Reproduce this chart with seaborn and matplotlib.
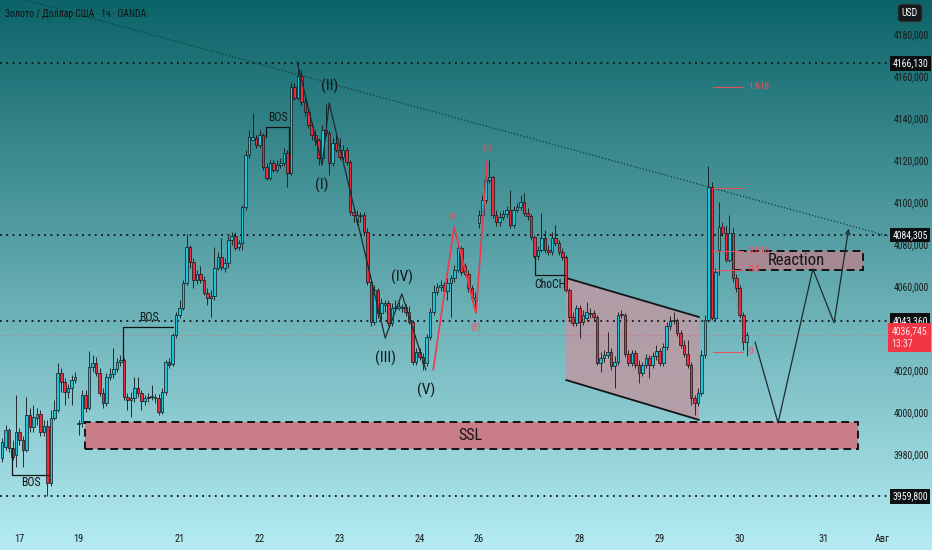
import numpy as np
import matplotlib
matplotlib.use("Agg")
import matplotlib.pyplot as plt
from matplotlib import font_manager as fm
from matplotlib.patches import Rectangle, Polygon
import seaborn as sns

# hourly XAU/USD candles
opens = [
    3978.1, 3983.3, 3991.4, 3982.9, 3979.5, 3990.5, 3986.7, 3981.9, 3998.6, 3992.9,
    3997.1, 3999.0, 3990.5, 3993.3, 3966.2, 3997.1, 4001.0, 4018.6, 4014.3, 4009.5,
    4011.4, 4015.2, 3994.8, 3994.8, 4008.1, 4001.9, 4021.4, 4023.3, 4018.6, 4009.0,
    4004.3, 4016.7, 4018.1, 4020.5, 4023.8, 4024.8, 4007.1, 4005.7, 4006.7, 4011.4,
    4009.0, 4005.2, 4006.7, 4007.1, 4007.1, 4006.7, 4000.0, 4009.5, 4023.8, 4022.9,
    4036.7, 4046.2, 4049.5, 4061.4, 4078.6, 4071.4, 4062.9, 4065.7, 4062.9, 4056.7,
    4054.3, 4055.2, 4068.6, 4073.8, 4068.6, 4071.0, 4081.9, 4083.8, 4078.6, 4080.5,
    4097.6, 4122.4, 4129.5, 4130.5, 4127.2, 4131.9, 4116.7, 4111.4, 4118.6, 4115.2,
    4117.6, 4118.6, 4123.3, 4113.8, 4154.8, 4149.5, 4160.0, 4147.6, 4142.9, 4136.7,
    4131.9, 4129.5, 4121.0, 4134.3, 4132.9, 4118.6, 4128.1, 4124.8, 4121.4, 4124.8,
    4119.1, 4095.2, 4090.5, 4093.3, 4093.8, 4085.7, 4061.9, 4042.9, 4058.1, 4047.1,
    4050.9, 4051.9, 4042.4, 4049.5, 4049.5, 4049.5, 4050.0, 4047.6, 4042.9, 4023.8,
    4028.6, 4026.2, 4023.3, 4035.7, 4047.6, 4057.1, 4059.5, 4060.5, 4057.6, 4061.4,
    4063.8, 4067.6, 4078.1, 4069.5, 4065.7, 4059.0, 4053.3, 4090.0, 4093.8, 4101.0,
    4110.5, 4111.9, 4093.8, 4090.5, 4092.9, 4094.3, 4096.2, 4089.1, 4096.2, 4097.6,
    4100.0, 4094.8, 4093.3, 4083.3, 4074.3, 4077.1, 4082.9, 4077.1, 4076.2, 4082.9,
    4080.5, 4076.2, 4073.8, 4058.1, 4045.2, 4042.4, 4049.5, 4042.9, 4044.8, 4046.7,
    4047.1, 4045.2, 4023.3, 4025.7, 4027.1, 4028.6, 4021.9, 4023.8, 4046.2, 4046.2,
    4027.6, 4023.3, 4028.1, 4022.4, 4018.6, 4022.4, 4025.7, 4022.4, 4026.7, 4029.0,
    4023.3, 4030.9, 4041.0, 4043.3, 4043.8, 4037.6, 4031.9, 4027.6, 4022.4, 4006.7,
    4004.3, 4009.0, 4027.1, 4043.8, 4107.1, 4044.8, 4077.1, 4088.1, 4085.2, 4072.4,
    4085.2, 4063.8, 4059.0, 4046.2, 4033.3,
]
highs = [
    3987.6, 3993.8, 3992.4, 3986.7, 4008.1, 3992.4, 3988.6, 4007.1, 4001.9, 4003.3,
    4001.9, 4001.0, 3996.2, 3996.2, 4001.0, 4005.7, 4023.3, 4021.0, 4016.2, 4013.3,
    4017.6, 4019.0, 3996.2, 4010.5, 4010.5, 4029.0, 4027.1, 4026.2, 4021.0, 4011.4,
    4018.6, 4021.0, 4030.5, 4025.7, 4027.1, 4025.7, 4009.0, 4009.5, 4016.7, 4016.7,
    4010.5, 4008.1, 4009.0, 4012.9, 4008.6, 4008.6, 4011.4, 4024.8, 4025.7, 4037.6,
    4047.6, 4053.3, 4062.9, 4084.8, 4079.5, 4073.3, 4067.6, 4069.5, 4064.8, 4059.0,
    4058.1, 4078.6, 4076.2, 4082.9, 4073.3, 4083.8, 4085.7, 4085.7, 4081.9, 4098.6,
    4124.8, 4134.3, 4142.4, 4131.9, 4134.3, 4132.9, 4118.6, 4120.0, 4120.0, 4120.0,
    4121.0, 4125.7, 4124.8, 4157.2, 4156.7, 4166.1, 4162.9, 4149.5, 4144.8, 4138.1,
    4134.3, 4130.5, 4136.7, 4146.7, 4134.3, 4130.5, 4131.9, 4130.5, 4127.2, 4126.2,
    4120.0, 4097.1, 4096.2, 4095.2, 4095.2, 4087.6, 4062.9, 4060.5, 4059.0, 4054.3,
    4053.3, 4053.3, 4051.9, 4053.3, 4052.4, 4051.4, 4051.4, 4050.5, 4043.8, 4030.5,
    4030.5, 4028.1, 4037.1, 4049.5, 4060.5, 4061.4, 4062.9, 4061.9, 4063.8, 4065.2,
    4070.0, 4079.5, 4079.1, 4071.0, 4067.6, 4060.5, 4057.1, 4096.2, 4103.3, 4112.9,
    4120.0, 4112.9, 4096.2, 4095.2, 4096.2, 4098.1, 4105.7, 4098.1, 4099.5, 4103.3,
    4104.3, 4097.1, 4094.3, 4084.3, 4079.1, 4094.8, 4086.7, 4079.5, 4085.7, 4089.1,
    4081.9, 4078.1, 4074.8, 4059.0, 4047.6, 4050.9, 4050.9, 4048.6, 4052.4, 4049.5,
    4048.6, 4046.2, 4028.6, 4029.5, 4038.1, 4030.5, 4026.7, 4047.6, 4048.6, 4047.1,
    4029.5, 4029.5, 4029.5, 4024.8, 4023.8, 4027.6, 4027.1, 4028.6, 4031.9, 4030.5,
    4032.9, 4042.9, 4045.7, 4047.6, 4044.8, 4039.0, 4034.3, 4034.3, 4023.8, 4008.1,
    4011.4, 4029.5, 4046.2, 4117.2, 4109.5, 4068.6, 4100.0, 4090.5, 4089.1, 4093.8,
    4087.6, 4065.7, 4060.5, 4047.6, 4038.1,
]
lows = [
    3976.2, 3981.9, 3981.0, 3977.1, 3973.8, 3984.3, 3973.8, 3981.0, 3990.5, 3990.5,
    3993.8, 3988.6, 3988.6, 3959.8, 3964.8, 3996.2, 4000.0, 4009.5, 4003.3, 4006.7,
    4003.3, 4013.8, 3989.1, 3992.9, 4000.0, 4001.0, 4019.0, 4017.1, 4007.6, 4001.9,
    4002.9, 4015.2, 4016.2, 4019.0, 4021.9, 4005.7, 4001.0, 3997.6, 4004.8, 4007.1,
    4001.0, 4003.3, 4004.8, 4005.7, 4004.3, 3998.6, 3999.0, 4008.1, 4021.0, 4021.9,
    4035.2, 4044.8, 4048.6, 4060.5, 4068.6, 4059.0, 4061.0, 4061.4, 4055.7, 4050.9,
    4045.2, 4053.3, 4067.6, 4067.6, 4066.7, 4068.6, 4079.5, 4077.1, 4077.1, 4077.1,
    4096.2, 4121.0, 4129.5, 4125.7, 4125.7, 4115.2, 4110.5, 4110.5, 4114.3, 4114.3,
    4116.2, 4117.2, 4107.1, 4112.9, 4148.6, 4148.6, 4146.2, 4141.0, 4135.2, 4129.5,
    4127.2, 4117.6, 4119.1, 4131.4, 4112.9, 4117.2, 4123.8, 4120.0, 4120.0, 4117.6,
    4093.8, 4090.5, 4089.1, 4090.5, 4083.8, 4060.5, 4041.0, 4041.4, 4044.8, 4043.8,
    4047.6, 4041.0, 4041.0, 4048.6, 4048.6, 4047.6, 4045.7, 4041.9, 4022.4, 4022.4,
    4024.8, 4020.0, 4021.9, 4034.3, 4046.2, 4055.7, 4057.6, 4055.7, 4053.3, 4045.2,
    4061.9, 4066.7, 4065.2, 4064.8, 4057.1, 4052.4, 4049.5, 4087.6, 4090.5, 4099.5,
    4109.0, 4092.4, 4088.6, 4088.6, 4091.4, 4092.9, 4087.6, 4087.6, 4095.2, 4096.2,
    4093.3, 4091.4, 4081.9, 4073.3, 4072.4, 4076.2, 4075.7, 4074.8, 4074.8, 4079.1,
    4074.8, 4072.4, 4057.1, 4043.8, 4041.0, 4041.0, 4035.2, 4041.4, 4043.3, 4044.8,
    4043.8, 4022.4, 4019.0, 4023.8, 4025.7, 4020.0, 4011.4, 4022.4, 4044.8, 4026.2,
    4021.9, 4021.9, 4021.0, 4013.8, 4017.1, 4021.0, 4016.2, 4021.0, 4024.8, 4021.9,
    4021.9, 4029.5, 4039.0, 4041.9, 4036.2, 4030.5, 4026.2, 4021.0, 4003.3, 3998.6,
    4002.9, 4007.6, 4025.7, 4042.9, 4043.8, 4043.8, 4065.2, 4083.8, 4071.4, 4071.4,
    4061.9, 4057.1, 4044.8, 4029.5, 4026.7,
]
closes = [
    3985.7, 3991.4, 3982.9, 3978.6, 3990.5, 3986.7, 3981.9, 3998.6, 3992.9, 3997.6,
    3999.0, 3990.5, 3993.3, 3966.2, 3997.1, 4001.0, 4018.6, 4014.3, 4009.5, 4011.4,
    4015.2, 4016.7, 3994.3, 4008.1, 4001.9, 4021.4, 4023.3, 4018.6, 4009.0, 4004.3,
    4016.7, 4018.1, 4020.5, 4023.8, 4024.8, 4007.1, 4005.7, 4006.7, 4011.4, 4009.0,
    4005.2, 4006.7, 4007.1, 4007.6, 4006.7, 4000.0, 4009.5, 4023.8, 4022.4, 4036.7,
    4046.2, 4049.5, 4061.4, 4078.6, 4071.4, 4062.9, 4065.7, 4062.9, 4056.7, 4054.3,
    4055.2, 4068.6, 4073.8, 4069.0, 4071.0, 4081.9, 4083.8, 4078.1, 4080.5, 4097.6,
    4122.4, 4131.0, 4131.0, 4127.2, 4131.9, 4116.7, 4111.4, 4118.6, 4115.2, 4117.6,
    4118.6, 4123.3, 4113.8, 4154.8, 4149.5, 4160.0, 4147.6, 4142.9, 4136.7, 4131.9,
    4129.5, 4121.0, 4134.3, 4132.9, 4118.6, 4128.1, 4124.8, 4121.4, 4124.8, 4119.1,
    4095.2, 4093.8, 4093.8, 4093.8, 4085.7, 4061.9, 4042.9, 4058.1, 4047.1, 4051.9,
    4051.9, 4042.4, 4049.5, 4050.0, 4050.5, 4050.0, 4047.6, 4042.9, 4023.8, 4028.6,
    4026.2, 4023.3, 4035.7, 4047.6, 4057.1, 4059.5, 4060.5, 4057.6, 4061.4, 4063.8,
    4067.6, 4078.1, 4066.7, 4065.7, 4059.0, 4054.3, 4054.3, 4093.8, 4101.0, 4110.5,
    4111.9, 4093.8, 4090.5, 4092.9, 4094.3, 4096.2, 4089.1, 4096.2, 4097.6, 4100.0,
    4094.8, 4093.3, 4083.3, 4074.3, 4077.1, 4082.9, 4077.1, 4076.2, 4082.9, 4080.5,
    4076.2, 4073.8, 4058.1, 4045.2, 4042.4, 4049.5, 4042.9, 4046.2, 4047.6, 4047.1,
    4045.2, 4023.3, 4025.7, 4027.1, 4028.6, 4021.9, 4023.8, 4046.2, 4046.7, 4027.6,
    4023.3, 4028.1, 4022.4, 4018.6, 4022.4, 4025.7, 4022.4, 4026.7, 4029.0, 4023.3,
    4030.9, 4041.0, 4043.3, 4043.8, 4037.6, 4031.9, 4027.6, 4022.4, 4006.7, 4004.3,
    4009.0, 4027.1, 4043.8, 4107.1, 4044.8, 4066.7, 4088.1, 4085.2, 4072.4, 4085.2,
    4063.8, 4059.0, 4046.2, 4033.3, 4036.7,
]

day_ticks = [5, 22, 51, 74, 97, 120, 137, 166, 189, 212, 236, 253]
day_labels = ["17", "19", "21", "22", "23", "24", "26", "28", "29", "30", "31", "Авг"]
price_ticks = [3980, 4000, 4020, 4060, 4080, 4100, 4120, 4140, 4160, 4180]
key_levels = [4166.13, 4084.305, 4043.36, 3959.8]
last_price = 4036.745

# elliott wave + abc (bar index, price)
wave_x = [84.8, 92.0, 94.0, 110.1, 114.9, 121.8]
wave_y = [4166.7, 4117.6, 4147.2, 4035.2, 4056.2, 4020.0]
wave_names = ["(I)", "(II)", "(III)", "(IV)", "(V)"]
wave_label_y = [4108.1, 4155.2, 4025.7, 4064.3, 4010.5]
abc_x = [123.9, 129.9, 136.2, 139.4]
abc_y = [4020.0, 4088.1, 4047.1, 4119.5]
abc_names = ["(A)", "(B)", "(C)"]
abc_label_y = [4093.3, 4040.5, 4125.7]

# projected path
path_x = [216.4, 223.0, 233.0, 239.1, 243.4]
path_y = [4033.3, 3994.8, 4068.1, 4042.4, 4088.6]

# fibonacci
fib_low, fib_high = 4028.6, 4106.7
fib_levels = [0, 0.5, 0.618, 1, 1.618]

up_col = "#1fc4d8"
dn_col = "#ee2a3c"
red = "#e8515e"
ink = "#121416"

sns.set_style("white")

# TradingView uses a narrow face; take a condensed one if the box has it
cands = [f for f in fm.fontManager.ttflist
         if f.stretch == "condensed" and f.style == "normal"
         and f.weight in (400, "normal", "regular", "book")]
pref = ["Liberation Sans Narrow", "Roboto Condensed", "Noto Sans", "Noto Sans Condensed",
        "DejaVu Sans", "DejaVu Sans Condensed", "Open Sans", "Open Sans Condensed",
        "Roboto", "Lato", "Inter"]
narrow = next((p for p in pref if any(f.name == p for f in cands)), None)
if narrow:
    plt.rcParams["font.family"] = [narrow, "DejaVu Sans"]
    plt.rcParams["font.stretch"] = "condensed"
    fs = 1.0
else:
    plt.rcParams["font.family"] = ["Liberation Sans", "DejaVu Sans"]
    fs = 0.86

fig = plt.figure(figsize=(9.32, 5.5), dpi=100)

# gradient background
bg = fig.add_axes([0, 0, 1, 1], zorder=-5)
top = np.array([12, 100, 104]) / 255
bot = np.array([180, 236, 242]) / 255
t = np.linspace(0, 1, 256)[:, None]
grad = top + (bot - top) * t
bg.imshow(grad[:, None, :], aspect="auto", extent=[0, 1, 0, 1])
bg.axis("off")

ax = fig.add_axes([0, 23 / 550, 888 / 932, 527 / 550])
ax.set_facecolor("none")

o = np.array(opens)
h = np.array(highs)
l = np.array(lows)
c = np.array(closes)
idx = np.arange(len(o))
colors = np.where(c >= o, up_col, dn_col)

# zones behind candles
ax.add_patch(Rectangle((23.9, 3982.4), 222.1, 12.8, fc="#c97d87", ec=ink,
                       ls=(0, (4, 2.5)), lw=1.4, zorder=1.5))
ax.text(134.5, 3988.8, "SSL", ha="center", va="center", fontsize=11.5 * fs, color=ink, zorder=5)

chan = [(162.1, 4063.8), (200.3, 4045.2), (200.3, 3996.2), (162.1, 4015.2)]
ax.add_patch(Polygon(chan, closed=True, fc="#b99ba5", ec="none", alpha=0.9, zorder=1.5))
ax.plot([162.1, 200.3], [4063.8, 4045.2], color=ink, lw=1.3, zorder=2)
ax.plot([162.1, 200.3], [4015.2, 3996.2], color=ink, lw=1.3, zorder=2)

fib_p = [fib_low + (fib_high - fib_low) * f for f in fib_levels]
ax.add_patch(Rectangle((210.1, fib_p[1]), 37.3, fib_p[2] - fib_p[1], fc="#a68993", ec=ink,
                       ls=(0, (4, 2.5)), lw=1.4, zorder=1.5))
ax.text(228.4, (fib_p[1] + fib_p[2]) / 2, "Reaction", ha="center", va="center",
        fontsize=12 * fs, color=ink, zorder=5)

# level lines
for lvl in key_levels:
    ax.axhline(lvl, color=ink, ls=(0, (1, 2.5)), lw=1.3, zorder=2)
ax.axhline(last_price, color=red, ls=(0, (1, 2)), lw=0.7, alpha=0.6, zorder=2)
ax.plot([6.6, 254.6], [4196.2, 4083.8], color="#0f3c3f", ls=(0, (1, 1.6)), lw=0.9, zorder=2)

# candles
ax.vlines(idx, l, h, color=ink, lw=0.6, zorder=3)
body = np.maximum(np.abs(c - o), 0.35)
ax.bar(idx, body, bottom=np.minimum(o, c), width=0.74, color=colors,
       edgecolor=ink, linewidth=0.5, zorder=4)

# structure marks
ax.plot([2.9, 2.9, 13.2], [3982.9, 3970.0, 3970.0], color=ink, lw=0.9, zorder=5)
ax.text(8.3, 3966.2, "BOS", ha="center", va="center", fontsize=8.5 * fs, color=ink, zorder=5)
ax.plot([34.8, 34.8, 49.1], [4024.8, 4040.5, 4040.5], color=ink, lw=0.9, zorder=5)
ax.text(42.2, 4044.8, "BOS", ha="center", va="center", fontsize=8.5 * fs, color=ink, zorder=5)
ax.plot([75.9, 75.9, 82.5, 82.5], [4131.0, 4135.7, 4135.7, 4113.8], color=ink, lw=0.9, zorder=5)
ax.text(79.3, 4140.3, "BOS", ha="center", va="center", fontsize=8.5 * fs, color=ink, zorder=5)
ax.plot([153.2, 153.2, 161.8], [4073.8, 4065.2, 4065.2], color=ink, lw=0.9, zorder=5)
ax.text(157.5, 4060.6, "ChoCH", ha="center", va="center", fontsize=8.5 * fs, color=ink, zorder=5)

# waves
sns.lineplot(x=wave_x, y=wave_y, sort=False, estimator=None, color="#1d2b2d", lw=0.9, ax=ax, zorder=5)
for wx, wy, name in zip(wave_x[1:], wave_label_y, wave_names):
    ax.text(wx, wy, name, ha="center", va="center", fontsize=11 * fs, color=ink, zorder=5)
sns.lineplot(x=abc_x, y=abc_y, sort=False, estimator=None, color="#f2384a", lw=1.2, ax=ax, zorder=5)
for wx, wy, name in zip(abc_x[1:], abc_label_y, abc_names):
    ax.text(wx, wy, name, ha="center", va="center", fontsize=6.5 * fs, color=red, alpha=0.85, zorder=5)

# fibonacci
for f, p in zip(fib_levels, fib_p):
    ax.plot([204.3, 212.9], [p, p], color=red, lw=0.8, zorder=5)
    ax.text(214.4, p, f"{f:g}", ha="left", va="center", fontsize=6.8 * fs, color=red, zorder=5)
ax.plot([204.9, 213.5], [4105.7, 4032.0], color=red, ls=(0, (1, 2)), lw=0.7, alpha=0.7, zorder=5)

# projection
sns.lineplot(x=path_x[:-1], y=path_y[:-1], sort=False, estimator=None, color="#1d2b2d", lw=0.9, ax=ax, zorder=5)
ax.annotate("", xy=(path_x[-1], path_y[-1]), xytext=(path_x[-2], path_y[-2]),
            arrowprops=dict(arrowstyle="->", color="#1d2b2d", lw=0.9, mutation_scale=8), zorder=5)

# axes
ax.set_xlim(-0.6, 254.6)
ax.set_ylim(3945.2, 4196.2)
ax.yaxis.tick_right()
ax.set_yticks(price_ticks)
ax.set_yticklabels([f"{p},000" for p in price_ticks])
ax.set_xticks(day_ticks)
ax.set_xticklabels(day_labels)
ax.tick_params(axis="y", length=0, pad=4, labelsize=7 * fs, labelcolor="#1a1a1a")
ax.tick_params(axis="x", length=0, pad=5, labelsize=7.5 * fs, labelcolor="#1a1a1a")
ax.grid(False)
sns.despine(ax=ax, left=True, bottom=True, right=True, top=True)
ax.set_xlabel("")
ax.set_ylabel("")

ytr = ax.get_yaxis_transform()
for lvl in key_levels:
    ax.text(1.005, lvl, f"{lvl:.3f}".replace(".", ","), transform=ytr, ha="left", va="center",
            color="white", fontsize=7 * fs, clip_on=False, zorder=6,
            bbox=dict(boxstyle="square,pad=0.25", fc="#0b0f12", ec="none"))
ax.text(1.004, 4040.8, f"{last_price:.3f}".replace(".", ",") + "\n13:37", transform=ytr,
        ha="left", va="top", color="#ffe3e6", fontsize=7 * fs, linespacing=1.35, clip_on=False, zorder=6,
        bbox=dict(boxstyle="square,pad=0.35", fc="#f23645", ec="none"))

fig.text(910 / 932, 1 - 13 / 550, "USD", ha="center", va="center", color="white", fontsize=7 * fs,
         bbox=dict(boxstyle="round,pad=0.4", fc="#15191c", ec="#3a3f44", lw=0.6))
fig.text(5 / 932, 1 - 14 / 550, "Золото / Доллар США · 1ч · OANDA", ha="left", va="center",
         fontsize=7 * fs, color="#111")

fig.savefig("out.png", dpi=100)
